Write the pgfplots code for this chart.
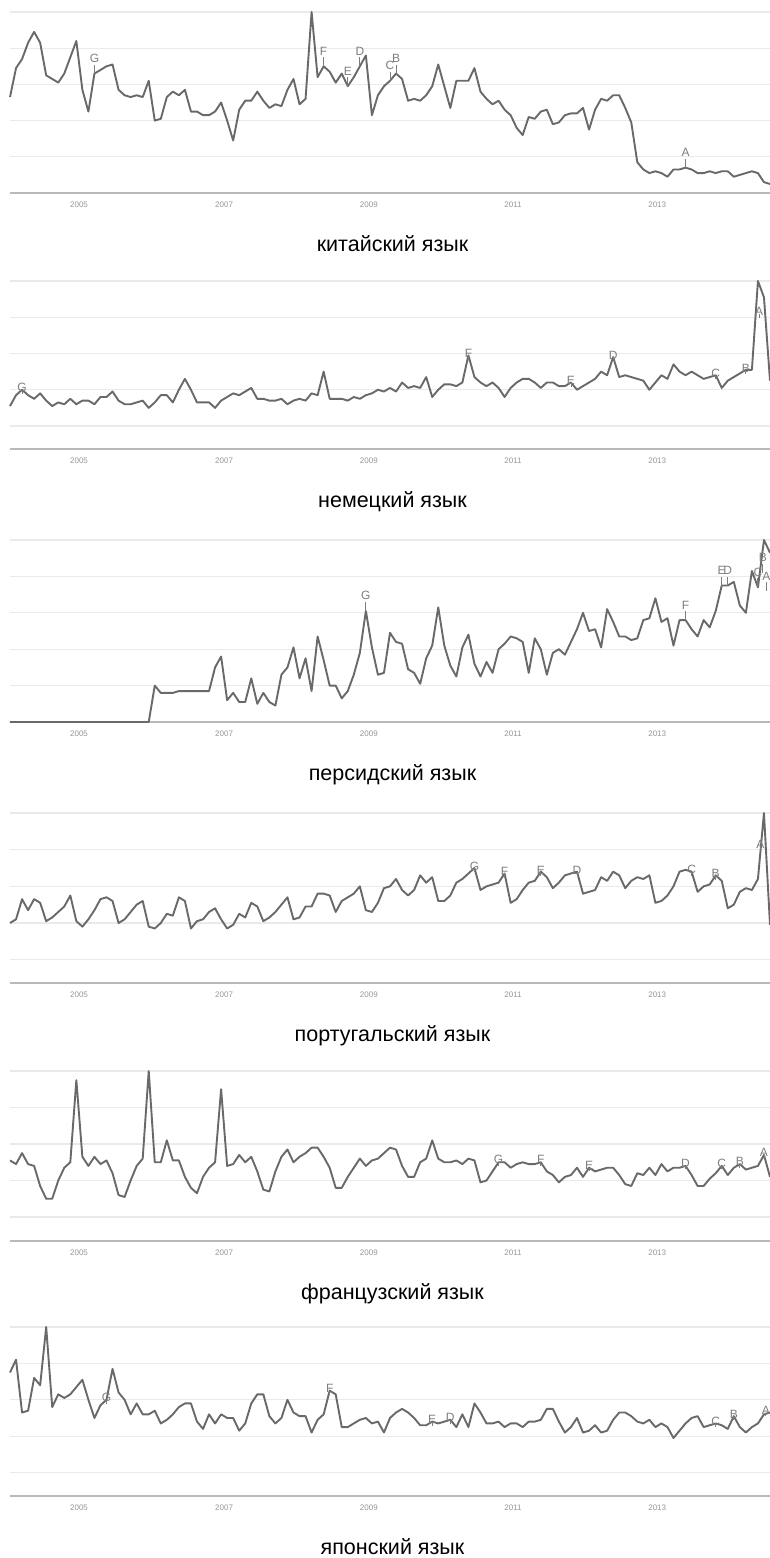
\documentclass[border=0pt]{standalone}
\usepackage{pgfplots}
\usepackage{pgfplotstable}
\pgfplotsset{compat=1.18}
\usepackage{fontspec}
\setmainfont{Liberation Sans}
\definecolor{trendline}{RGB}{105,105,105}
\definecolor{gridc}{RGB}{234,234,234}
\definecolor{axisc}{RGB}{185,185,185}
\definecolor{tickc}{RGB}{150,150,150}
\definecolor{annc}{RGB}{125,125,125}

% monthly values, Jan 2004 ... Jul 2014 (index 0..126)
\pgfplotstableread[row sep=\\]{v\\53\\69\\74\\83\\89\\83\\65\\63\\61\\66\\75\\84\\57\\45\\66\\68\\70\\71\\57\\54\\53\\54\\53\\62\\40\\41\\53\\56\\54\\57\\45\\45\\43\\43\\45\\50\\40\\29\\46\\51\\51\\56\\51\\47\\49\\48\\57\\63\\49\\52\\100\\64\\70\\67\\61\\66\\59\\64\\70\\76\\43\\54\\59\\62\\66\\63\\51\\52\\51\\54\\59\\71\\59\\47\\62\\62\\62\\69\\56\\52\\49\\51\\46\\43\\36\\32\\42\\41\\45\\46\\38\\39\\43\\44\\44\\47\\35\\46\\52\\51\\54\\54\\47\\39\\17\\13\\11\\12\\11\\9\\13\\13\\14\\13\\11\\11\\12\\11\\12\\12\\9\\10\\11\\12\\11\\6\\5\\}\chinese
\pgfplotstableread[row sep=\\]{v\\31\\37\\40\\37\\35\\38\\34\\31\\33\\32\\35\\32\\34\\34\\32\\36\\36\\39\\34\\32\\32\\33\\34\\30\\33\\37\\37\\33\\40\\46\\40\\33\\33\\33\\30\\34\\36\\38\\37\\39\\41\\35\\35\\34\\34\\35\\32\\34\\35\\34\\38\\37\\50\\35\\35\\35\\34\\36\\35\\37\\38\\40\\39\\41\\39\\44\\41\\42\\41\\47\\36\\40\\43\\43\\42\\44\\59\\47\\44\\42\\44\\41\\36\\41\\44\\46\\46\\44\\41\\44\\44\\42\\42\\44\\40\\42\\44\\46\\50\\48\\58\\47\\48\\47\\46\\45\\40\\44\\48\\46\\54\\50\\48\\50\\48\\46\\47\\48\\41\\45\\47\\49\\51\\51\\100\\91\\45\\}\german
\pgfplotstableread[row sep=\\]{v\\0\\0\\0\\0\\0\\0\\0\\0\\0\\0\\0\\0\\0\\0\\0\\0\\0\\0\\0\\0\\0\\0\\0\\0\\20\\16\\16\\16\\17\\17\\17\\17\\17\\17\\30\\36\\12\\16\\11\\11\\24\\10\\16\\11\\9\\26\\30\\41\\24\\35\\17\\47\\34\\20\\20\\13\\17\\26\\38\\61\\41\\26\\27\\49\\44\\43\\29\\27\\21\\35\\42\\63\\42\\31\\25\\41\\48\\32\\25\\33\\27\\40\\43\\47\\46\\44\\27\\46\\40\\26\\38\\40\\37\\44\\51\\60\\50\\51\\41\\62\\55\\47\\47\\45\\46\\56\\57\\68\\55\\57\\42\\56\\56\\51\\47\\56\\52\\61\\75\\75\\77\\64\\60\\83\\74\\100\\93\\}\persian
\pgfplotstableread[row sep=\\]{v\\40\\42\\53\\47\\53\\51\\41\\43\\46\\49\\55\\41\\38\\42\\47\\53\\54\\52\\40\\42\\46\\50\\52\\38\\37\\40\\45\\44\\54\\52\\37\\41\\42\\46\\48\\42\\37\\39\\45\\43\\51\\49\\41\\43\\46\\50\\54\\42\\43\\49\\49\\56\\56\\55\\46\\52\\54\\56\\60\\47\\46\\51\\59\\60\\64\\58\\55\\58\\66\\62\\65\\52\\52\\55\\62\\64\\67\\70\\58\\60\\61\\62\\67\\51\\53\\58\\62\\63\\68\\65\\59\\62\\66\\67\\68\\56\\57\\58\\65\\63\\68\\66\\59\\63\\65\\64\\66\\51\\52\\55\\60\\68\\69\\68\\57\\60\\61\\66\\63\\48\\50\\57\\59\\58\\64\\100\\39\\}\portuguese
\pgfplotstableread[row sep=\\]{v\\51\\49\\55\\49\\48\\37\\30\\30\\40\\47\\50\\95\\53\\48\\53\\49\\51\\44\\32\\31\\40\\48\\52\\100\\50\\50\\62\\51\\51\\42\\36\\33\\42\\47\\50\\90\\48\\49\\54\\50\\53\\45\\35\\34\\45\\53\\57\\50\\53\\55\\58\\58\\53\\47\\36\\36\\42\\47\\52\\48\\51\\52\\55\\58\\57\\48\\42\\42\\50\\52\\62\\52\\50\\50\\51\\49\\52\\51\\39\\40\\45\\50\\50\\47\\49\\50\\49\\49\\50\\45\\43\\39\\42\\43\\47\\42\\47\\45\\46\\47\\47\\43\\38\\37\\44\\43\\47\\43\\49\\45\\47\\47\\48\\43\\37\\37\\41\\44\\48\\43\\47\\49\\46\\47\\48\\54\\42\\}\french
\pgfplotstableread[row sep=\\]{v\\75\\82\\53\\54\\72\\68\\100\\56\\63\\61\\63\\67\\71\\60\\50\\57\\60\\77\\64\\60\\52\\58\\52\\52\\54\\47\\49\\52\\56\\58\\58\\48\\44\\52\\47\\52\\50\\50\\43\\47\\58\\63\\63\\51\\47\\50\\60\\53\\51\\51\\42\\49\\52\\65\\63\\45\\45\\47\\49\\50\\47\\48\\42\\50\\53\\55\\53\\50\\46\\46\\48\\47\\48\\49\\45\\52\\45\\58\\53\\47\\47\\48\\45\\47\\47\\45\\48\\48\\49\\55\\55\\48\\42\\45\\50\\42\\43\\46\\42\\43\\49\\53\\53\\51\\48\\47\\49\\45\\47\\45\\39\\43\\47\\50\\51\\45\\46\\47\\46\\44\\51\\45\\42\\45\\47\\52\\53\\}\japanese

\pgfplotsset{
  trendpanel/.style={
    scale only axis, width=760pt,
    xmin=0, xmax=126, ymax=100,
    clip=false,
    anchor=south west,
    axis line style={draw=none},
    major tick length=0pt,
    xtick={11.44,35.5,59.5,83.4,107.3},
    xticklabels={2005,2007,2009,2011,2013},
    xticklabel style={font=\fontsize{8}{8}\selectfont, text=tickc, anchor=center, yshift=-12pt},
    ytick={20,40,60,80,100},
    yticklabels={},
    ymajorgrids,
    grid style={gridc, line width=1.3pt},
    xlabel style={font=\fontsize{21.5}{24}\selectfont, text=black, at={(axis description cs:0.5,0)}, anchor=base, yshift=-58pt, xshift=2.5pt},
  },
  trendplot/.style={trendline, line width=1.9pt, line join=round, mark=none},
}
\newcommand{\baseline}{\draw[axisc, line width=1.8pt] (rel axis cs:0,0) -- (rel axis cs:1,0);}
\newcommand{\ann}[3]{\draw[annc, line width=0.9pt] (axis cs:#1,#2) -- ++(0,9pt) node[anchor=south, inner sep=1.5pt, font=\fontsize{12}{12}\selectfont, text=annc]{#3};}

\begin{document}
\begin{tikzpicture}
\useasboundingbox (0,0) rectangle (770pt,-1558pt);

\begin{axis}[trendpanel, at={(10pt,-193pt)}, height=181pt, ymin=0, xlabel={китайский язык}]
\baseline
\addplot[trendplot] table[x expr=\coordindex, y=v] {\chinese};
\ann{14}{66}{G}\ann{52}{70}{F}\ann{56}{59}{E}\ann{58}{70}{D}\ann{63}{62}{C}\ann{64}{66}{B}\ann{112}{14}{A}
\end{axis}

\begin{axis}[trendpanel, at={(10pt,-449pt)}, height=168pt, ymin=7.3, xlabel={немецкий язык}]
\baseline
\addplot[trendplot] table[x expr=\coordindex, y=v] {\german};
\ann{2}{40}{G}\ann{76}{59}{F}\ann{93}{44}{E}\ann{100}{58}{D}\ann{117}{48}{C}\ann{122}{51}{B}\ann{124.2}{82}{A}
\end{axis}

\begin{axis}[trendpanel, at={(10pt,-722pt)}, height=182pt, ymin=0, xlabel={персидский язык}]
\baseline
\addplot[trendplot] table[x expr=\coordindex, y=v] {\persian};
\ann{59}{61}{G}\ann{112}{56}{F}\ann{118}{75}{E}\ann{119}{75}{D}\ann{124}{74}{C}\ann{124.8}{82}{B}\ann{125.4}{72}{A}
\end{axis}

\begin{axis}[trendpanel, at={(10pt,-983pt)}, height=170pt, ymin=7.25, xlabel={португальский язык}]
\baseline
\addplot[trendplot] table[x expr=\coordindex, y=v] {\portuguese};
\ann{77}{70}{G}\ann{82}{67}{F}\ann{88}{68}{E}\ann{94}{68}{D}\ann{113}{68}{C}\ann{117}{66}{B}\ann{124.4}{82}{A}
\end{axis}

\begin{axis}[trendpanel, at={(10pt,-1241pt)}, height=170pt, ymin=6.85, xlabel={французский язык}]
\baseline
\addplot[trendplot] table[x expr=\coordindex, y=v] {\french};
\ann{81}{50}{G}\ann{88}{50}{F}\ann{96}{47}{E}\ann{112}{48}{D}\ann{118}{48}{C}\ann{121}{49}{B}\ann{125}{54}{A}
\end{axis}

\begin{axis}[trendpanel, at={(10pt,-1496pt)}, height=169pt, ymin=7.1, xlabel={японский язык}]
\baseline
\addplot[trendplot] table[x expr=\coordindex, y=v] {\japanese};
\ann{16}{60}{G}\ann{53}{65}{F}\ann{70}{48}{E}\ann{73}{49}{D}\ann{117}{47}{C}\ann{120}{51}{B}\ann{125.3}{53}{A}
\end{axis}
\end{tikzpicture}
\end{document}
